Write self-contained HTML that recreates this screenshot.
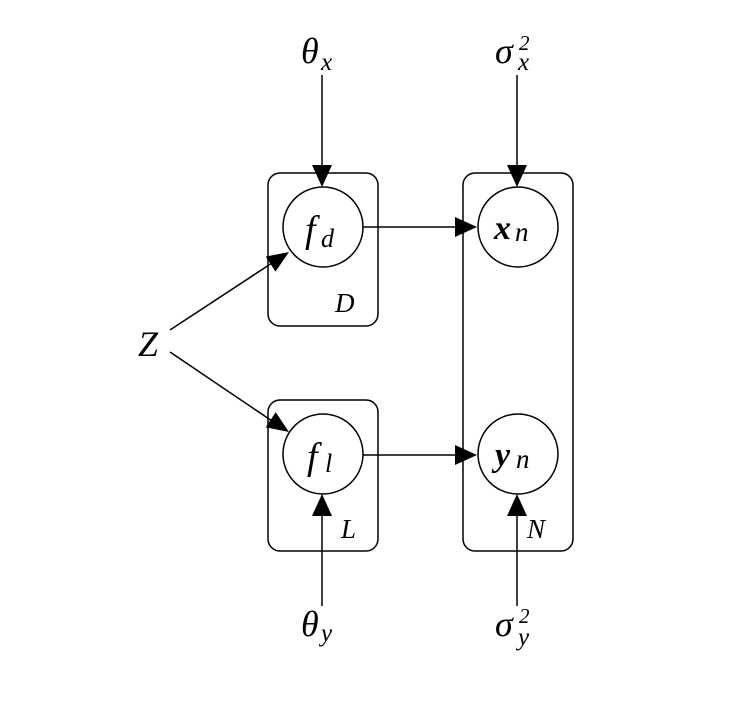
<!DOCTYPE html>
<html><head><meta charset="utf-8"><style>
html,body{margin:0;padding:0;background:#fff;}
svg{display:block;}
text{font-family:"Liberation Serif","DejaVu Serif",serif;font-style:italic;fill:#000;}
</style></head><body>
<svg width="738" height="706" viewBox="0 0 738 706" xmlns="http://www.w3.org/2000/svg">
<g fill="none" stroke="#000" stroke-width="1.5">
<rect x="268" y="173" width="110" height="153" rx="12"/>
<rect x="268" y="400" width="110" height="151" rx="12"/>
<rect x="463" y="173" width="110" height="378" rx="12"/>
<circle cx="323" cy="227" r="40" fill="#fff"/>
<circle cx="518" cy="227" r="40" fill="#fff"/>
<circle cx="323" cy="454" r="40" fill="#fff"/>
<circle cx="518" cy="454" r="40" fill="#fff"/>
<line x1="322" y1="75" x2="322" y2="170"/>
<line x1="517" y1="75" x2="517" y2="170"/>
<line x1="322" y1="606" x2="322" y2="512"/>
<line x1="517" y1="606" x2="517" y2="512"/>
<line x1="363" y1="227" x2="458" y2="227"/>
<line x1="363" y1="455" x2="458" y2="455"/>
<line x1="170" y1="330" x2="272" y2="263"/>
<line x1="170" y1="352" x2="272" y2="421"/>
</g>
<g fill="#000">
<polygon points="322,187 312,165 332,165"/>
<polygon points="517,187 507,165 527,165"/>
<polygon points="322,494 312,516 332,516"/>
<polygon points="517,494 507,516 527,516"/>
<polygon points="477,227 455,217 455,237"/>
<polygon points="477,455 455,445 455,465"/>
<polygon points="289,252 275.5,271.6 265.7,256.6"/>
<polygon points="289,432 265.7,427.2 275.7,412.2"/>
</g>
<text x="301" y="63" font-size="36">θ</text>
<text x="321" y="70" font-size="25">x</text>
<text x="495" y="63" font-size="36">σ</text>
<text x="519" y="50" font-size="21" font-style="normal">2</text>
<text x="518" y="70" font-size="25">x</text>
<text x="301" y="636" font-size="36">θ</text>
<text x="321" y="641" font-size="25">y</text>
<text x="495" y="636" font-size="36">σ</text>
<text x="519" y="623" font-size="21" font-style="normal">2</text>
<text x="518" y="645" font-size="25">y</text>
<text x="138" y="356" font-size="36">Z</text>
<text x="305" y="242" font-size="38">f</text>
<text x="321" y="247" font-size="26">d</text>
<text x="307" y="469" font-size="38">f</text>
<text x="325" y="472" font-size="26">l</text>
<text x="494" y="239" font-size="34" font-weight="bold">x</text>
<text x="515" y="241" font-size="27">n</text>
<text x="495" y="466" font-size="34" font-weight="bold">y</text>
<text x="516" y="468" font-size="27">n</text>
<text x="335" y="312" font-size="27">D</text>
<text x="341" y="538" font-size="27">L</text>
<text x="527" y="538" font-size="27">N</text>
</svg>
</body></html>
